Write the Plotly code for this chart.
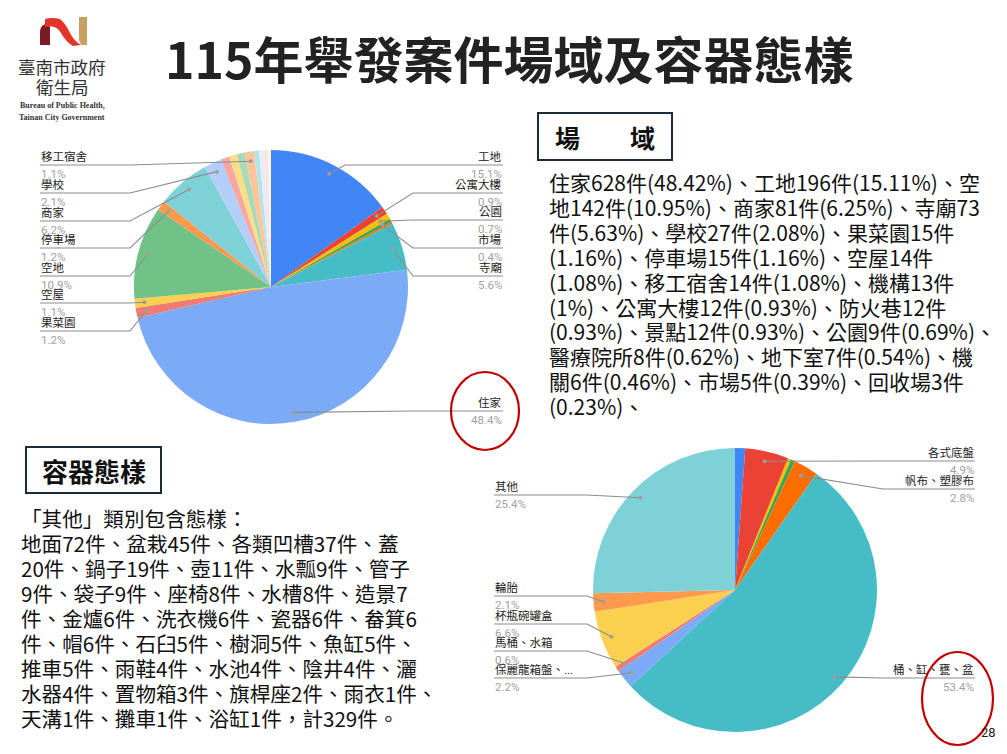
import math
import plotly.graph_objects as go

W, H = 1007, 754

# ---------------- data ----------------
venue_labels = ['工地', '公寓大樓', '公園', '市場', '回收場', '寺廟', '住家', '果菜園', '空屋', '空地',
                '停車場', '商家', '學校', '機構', '防火巷', '景點', '移工宿舍', '醫療院所', '地下室', '機關', '其他']
venue_counts = [196, 12, 9, 5, 3, 73, 628, 15, 14, 142, 15, 81, 27, 13, 12, 12, 14, 8, 7, 6, 5]

container_labels = ['未標示A', '各式底盤', '未標示B', '未標示C', '帆布、塑膠布', '桶、缸、甕、盆',
                    '保麗龍箱盤、...', '馬桶、水箱', '杯瓶碗罐盒', '輪胎', '其他']
container_counts = [15, 64, 5, 6, 36, 693, 28, 8, 86, 27, 329]

title_text = '115年舉發案件場域及容器態樣'
venue_heading = '場　　域'
container_heading = '容器態樣'

venue_text_lines = [
    '住家628件(48.42%)、工地196件(15.11%)、空',
    '地142件(10.95%)、商家81件(6.25%)、寺廟73',
    '件(5.63%)、學校27件(2.08%)、果菜園15件',
    '(1.16%)、停車場15件(1.16%)、空屋14件',
    '(1.08%)、移工宿舍14件(1.08%)、機構13件',
    '(1%)、公寓大樓12件(0.93%)、防火巷12件',
    '(0.93%)、景點12件(0.93%)、公園9件(0.69%)、',
    '醫療院所8件(0.62%)、地下室7件(0.54%)、機',
    '關6件(0.46%)、市場5件(0.39%)、回收場3件',
    '(0.23%)、',
]
container_text_lines = [
    '「其他」類別包含態樣：',
    '地面72件、盆栽45件、各類凹槽37件、蓋',
    '20件、鍋子19件、壺11件、水瓢9件、管子',
    '9件、袋子9件、座椅8件、水槽8件、造景7',
    '件、金爐6件、洗衣機6件、瓷器6件、畚箕6',
    '件、帽6件、石臼5件、樹洞5件、魚缸5件、',
    '推車5件、雨鞋4件、水池4件、陰井4件、灑',
    '水器4件、置物箱3件、旗桿座2件、雨衣1件、',
    '天溝1件、攤車1件、浴缸1件，計329件。',
]
page_number = '28'

# ---------------- styles / layout ----------------
venue_colors = ['#4285F4', '#EA4335', '#FBBC04', '#34A853', '#FF6D01', '#46BDC6', '#7BAAF7', '#F07B72',
                '#FCD04F', '#71C287', '#FF994D', '#7ED1D7', '#B3CEFB', '#F7A7A1', '#FDDE86', '#A8DAB5',
                '#FFC599', '#B5E3E6', '#E3EDFD', '#FCE3E1', '#FEF5DB']
container_colors = ['#4285F4', '#EA4335', '#FBBC04', '#34A853', '#FF6D01', '#46BDC6', '#7BAAF7',
                    '#F07B72', '#FCD04F', '#FF994D', '#7ED1D7']

CJK = 'Noto Sans CJK TC, sans-serif'
LBL = 'Roboto, Noto Sans CJK TC, sans-serif'

pie1 = dict(cx=271, cy=287, r=137)
pie2 = dict(cx=735, cy=590, r=142)

# label placement: name -> (side, line_y, elbow_x, anchor_x)
venue_label_pos = {
    '移工宿舍': ('L', 165, 130, 40), '學校': ('L', 193, 130, 40), '商家': ('L', 221, 130, 40),
    '停車場': ('L', 248, 130, 40), '空地': ('L', 276, 130, 40), '空屋': ('L', 303, 130, 40),
    '果菜園': ('L', 331, 130, 40),
    '工地': ('R', 165, 345, 503), '公寓大樓': ('R', 193, 413, 503), '公園': ('R', 220, 413, 503),
    '市場': ('R', 248, 413, 503), '寺廟': ('R', 276, 413, 503), '住家': ('R', 411, 413, 503),
}
container_label_pos = {
    '各式底盤': ('R', 461, 883, 975), '帆布、塑膠布': ('R', 489, 883, 975),
    '桶、缸、甕、盆': ('R', 678, 883, 975),
    '其他': ('L', 495, 587, 494), '輪胎': ('L', 596, 587, 494), '杯瓶碗罐盒': ('L', 624, 587, 494),
    '馬桶、水箱': ('L', 651, 587, 494), '保麗龍箱盤、...': ('L', 678, 587, 494),
}

fig = go.Figure()


def add_pie(labels, counts, colors, geo):
    cx, cy, r = geo['cx'], geo['cy'], geo['r']
    fig.add_trace(go.Pie(
        labels=labels, values=counts, sort=False, direction='clockwise', rotation=0,
        marker=dict(colors=colors, line=dict(width=0)), textinfo='none', hoverinfo='label+percent',
        showlegend=False,
        domain=dict(x=[(cx - r) / W, (cx + r) / W], y=[1 - (cy + r) / H, 1 - (cy - r) / H]),
    ))


def mid_points(counts, geo, frac=0.93):
    total = sum(counts)
    cum = 0
    pts = []
    for c in counts:
        a = (cum + c / 2) / total * 2 * math.pi
        pts.append((geo['cx'] + frac * geo['r'] * math.sin(a), geo['cy'] - frac * geo['r'] * math.cos(a)))
        cum += c
    return pts


shapes = []
annotations = []


def add_labels(labels, counts, geo, pos):
    total = sum(counts)
    pts = mid_points(counts, geo)
    for lab, c, (px, py) in zip(labels, counts, pts):
        if lab not in pos:
            continue
        side, ly, ex, ax = pos[lab]
        shapes.append(dict(type='path', path=f'M {ax} {ly} L {ex} {ly} L {px:.1f} {py:.1f}',
                           xref='x', yref='y', line=dict(color='#8c8c8c', width=1.1), layer='above'))
        shapes.append(dict(type='circle', x0=px - 2, x1=px + 2, y0=py - 2, y1=py + 2, xref='x', yref='y',
                           fillcolor='#9e9e9e', line=dict(width=0), layer='above'))
        xa = 'left' if side == 'L' else 'right'
        annotations.append(dict(x=ax, y=ly - 8, text=lab, showarrow=False, xanchor=xa, yanchor='middle',
                                font=dict(family=LBL, size=11.5, color='#222222'), xref='x', yref='y',
                                borderpad=0))
        annotations.append(dict(x=ax, y=ly + 8.5, text=f'{100 * c / total:.1f}%', showarrow=False, xanchor=xa,
                                yanchor='middle', font=dict(family=LBL, size=11.5, color='#a0a0a0'),
                                xref='x', yref='y', borderpad=0))


add_pie(venue_labels, venue_counts, venue_colors, pie1)
add_pie(container_labels, container_counts, container_colors, pie2)
add_labels(venue_labels, venue_counts, pie1, venue_label_pos)
add_labels(container_labels, container_counts, pie2, container_label_pos)

# title
annotations.append(dict(x=509, y=57, text=f'<b>{title_text}</b>', showarrow=False, xanchor='center',
                        yanchor='middle', font=dict(family=CJK, size=50, color='#222222'), xref='x', yref='y'))

# heading boxes
shapes.append(dict(type='rect', x0=538, x1=672, y0=113, y1=160, xref='x', yref='y',
                   line=dict(color='#1c2b3a', width=2), layer='above'))
annotations.append(dict(x=605, y=137, text=f'<b>{venue_heading}</b>', showarrow=False, xanchor='center',
                        yanchor='middle', font=dict(family=CJK, size=25, color='#111111'), xref='x', yref='y'))
shapes.append(dict(type='rect', x0=26, x1=161, y0=447, y1=493, xref='x', yref='y',
                   line=dict(color='#1c2b3a', width=2), layer='above'))
annotations.append(dict(x=93.5, y=470, text=f'<b>{container_heading}</b>', showarrow=False, xanchor='center',
                        yanchor='middle', font=dict(family=CJK, size=26, color='#111111'), xref='x', yref='y'))

# paragraphs
for i, line in enumerate(venue_text_lines):
    annotations.append(dict(x=548, y=182 + 24.9 * i, text=line, showarrow=False, xanchor='left',
                            yanchor='middle', font=dict(family=CJK, size=21, color='#111111'),
                            xref='x', yref='y', borderpad=0))
for i, line in enumerate(container_text_lines):
    annotations.append(dict(x=20, y=518 + 25 * i, text=line, showarrow=False, xanchor='left',
                            yanchor='middle', font=dict(family=CJK, size=20.6, color='#111111'),
                            xref='x', yref='y', borderpad=0))

# red highlight circles
shapes.append(dict(type='circle', x0=451, x1=519, y0=372, y1=450, xref='x', yref='y',
                   line=dict(color='#C00000', width=2.2), layer='above'))
shapes.append(dict(type='circle', x0=922, x1=993, y0=652, y1=745, xref='x', yref='y',
                   line=dict(color='#C00000', width=2.2), layer='above'))

# page number
annotations.append(dict(x=988, y=732, text=page_number, showarrow=False, xanchor='center', yanchor='middle',
                        font=dict(family='Roboto, sans-serif', size=13, color='#222222'), xref='x', yref='y'))

# logo
shapes.append(dict(type='path', path='M 40 45 L 40 31 Q 41 24 47 24 L 50 27 L 50 45 Z', xref='x', yref='y',
                   fillcolor='#7a1c22', line=dict(width=0), layer='above'))
shapes.append(dict(type='path', path='M 79 17 L 87 17 L 87 45 L 81 45 L 79 40 Z', xref='x', yref='y',
                   fillcolor='#c8a064', line=dict(width=0), layer='above'))
shapes.append(dict(type='path', path='M 45 19 Q 52 17 60 19 Q 66 24 70 33 Q 74 41 81 45 L 73 46 Q 66 42 61 33 Q 56 24 45 27 Z',
                   xref='x', yref='y', fillcolor='#e3342b', line=dict(width=0), layer='above'))
annotations.append(dict(x=62, y=66, text='臺南市政府', showarrow=False, xanchor='center', yanchor='middle',
                        font=dict(family=CJK, size=17.5, color='#333333'), xref='x', yref='y'))
annotations.append(dict(x=62, y=86, text='衛生局', showarrow=False, xanchor='center', yanchor='middle',
                        font=dict(family=CJK, size=17.5, color='#333333'), xref='x', yref='y'))
annotations.append(dict(x=62, y=105, text='<b>Bureau of Public Health,</b>', showarrow=False, xanchor='center',
                        yanchor='middle', font=dict(family='Liberation Serif, serif', size=8, color='#333333'),
                        xref='x', yref='y'))
annotations.append(dict(x=62, y=117, text='<b>Tainan City Government</b>', showarrow=False, xanchor='center',
                        yanchor='middle', font=dict(family='Liberation Serif, serif', size=8, color='#333333'),
                        xref='x', yref='y'))

fig.update_layout(
    width=W, height=H, margin=dict(l=0, r=0, t=0, b=0), paper_bgcolor='white', plot_bgcolor='white',
    xaxis=dict(range=[0, W], visible=False, fixedrange=True),
    yaxis=dict(range=[H, 0], visible=False, fixedrange=True),
    shapes=shapes, annotations=annotations, showlegend=False,
)

fig.write_html('out.html', config={'displayModeBar': False},
               post_script="document.body.style.margin='0';document.body.style.overflow='hidden';")
